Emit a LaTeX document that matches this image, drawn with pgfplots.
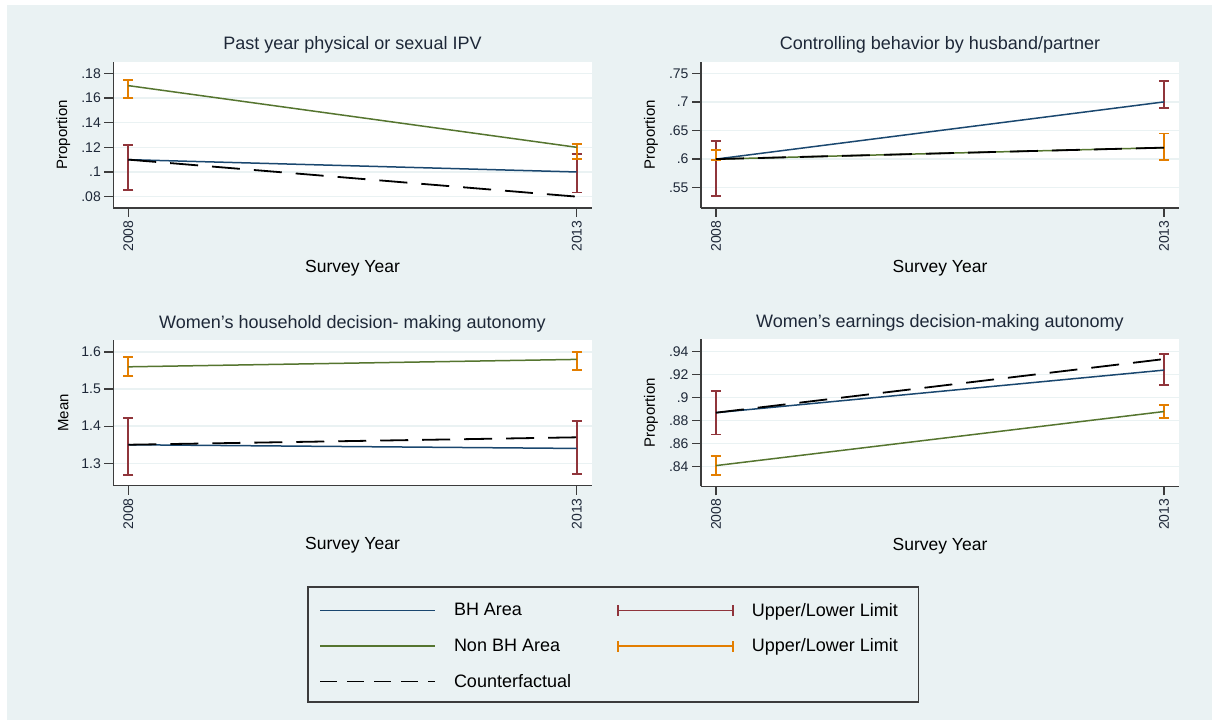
\documentclass[border=0pt]{standalone}
\usepackage{fontspec}
\setmainfont{Liberation Sans}
\usepackage{pgfplots}
\pgfplotsset{compat=1.18}
\definecolor{bgblue}{HTML}{EAF2F3}
\definecolor{sblue}{HTML}{1A476F}
\definecolor{sred}{HTML}{90353B}
\definecolor{sgreen}{HTML}{55752F}
\definecolor{sorange}{HTML}{E37E00}
\definecolor{axcol}{HTML}{3C3C3C}
\definecolor{txtcol}{HTML}{1E2838}
\pgfplotsset{
 panel/.style={
  scale only axis, width=478.4pt, height=146.3pt,
  xmin=2007.833, xmax=2013.167,
  axis x line*=bottom, axis y line*=left,
  axis line style={-, axcol, line width=1.3pt},
  tick style={axcol, line width=1.3pt},
  tick align=outside, major tick length=9pt,
  xtick={2008,2013}, xticklabels={2008,2013},
  xticklabel style={rotate=90, anchor=east, font=\fontsize{14}{16}\selectfont, text=txtcol},
  yticklabel style={font=\fontsize{14}{16}\selectfont, text=txtcol},
  ymajorgrids, grid style={bgblue, line width=1.5pt},
  axis background/.style={fill=white},
  title style={at={(axis description cs:0.5,1.041)}, anchor=base, font=\fontsize{18}{20}\selectfont, text=txtcol},
  xlabel style={at={(axis description cs:0.5,-0.41)}, anchor=center, font=\fontsize{17.5}{20}\selectfont, text=black},
  ylabel style={at={(axis description cs:-0.1045,0.5)}, anchor=center, font=\fontsize{15}{18}\selectfont, text=black},
  xlabel={Survey Year},
 },
 ci/.style={draw=none, mark=none, forget plot, error bars/.cd, y dir=both, y explicit,
   error bar style={draw=#1, line width=1.7pt, solid},
   error mark options={draw=#1, line width=1.7pt, mark size=5pt, rotate=90, solid}},
 bh/.style={sblue, line width=1.5pt, mark=none},
 nbh/.style={sgreen, line width=1.5pt, mark=none},
 cf/.style={black, line width=1.8pt, mark=none, dash pattern=on 28pt off 14pt},
}
\begin{document}
\begin{tikzpicture}[x=1pt,y=1pt]
\useasboundingbox (0,0) rectangle (1215,722);
\fill[white] (0,0) rectangle (1215,722);
\fill[bgblue] (7,2) rectangle (1212,717);

% Top left
\begin{axis}[panel, at={(113.3pt,514pt)}, anchor=south west,
  ymin=0.0708, ymax=0.1894,
  ytick={0.08,0.1,0.12,0.14,0.16,0.18}, yticklabels={.08,.1,.12,.14,.16,.18},
  title={Past year physical or sexual IPV}, ylabel={Proportion}]
\addplot[ci=sred] coordinates {(2008,0.11) += (0,0.0116) -= (0,0.0248) (2013,0.10) += (0,0.0148) -= (0,0.0167)};
\addplot[ci=sorange] coordinates {(2008,0.17) += (0,0.0046) -= (0,0.0102) (2013,0.12) += (0,0.0027) -= (0,0.0093)};
\addplot[bh] coordinates {(2008,0.11) (2013,0.10)};
\addplot[nbh] coordinates {(2008,0.17) (2013,0.12)};
\addplot[cf] coordinates {(2008,0.11) (2013,0.08)};
\end{axis}

% Top right
\begin{axis}[panel, at={(701pt,514pt)}, anchor=south west, width=478pt,
  ymin=0.5145, ymax=0.7703,
  ytick={0.55,0.6,0.65,0.7,0.75}, yticklabels={.55,.6,.65,.7,.75},
  title={Controlling behavior by husband/partner}, ylabel={Proportion}]
\addplot[ci=sred] coordinates {(2008,0.60) += (0,0.0316) -= (0,0.0646) (2013,0.70) += (0,0.0366) -= (0,0.0112)};
\addplot[ci=sorange] coordinates {(2008,0.60) += (0,0.0159) -= (0,0.0022) (2013,0.62) += (0,0.025) -= (0,0.0222)};
\addplot[bh] coordinates {(2008,0.60) (2013,0.70)};
\addplot[nbh] coordinates {(2008,0.60) (2013,0.62)};
\addplot[cf] coordinates {(2008,0.60) (2013,0.62)};
\end{axis}

% Bottom left
\begin{axis}[panel, at={(113.3pt,236.3pt)}, anchor=south west, height=145.7pt,
  ymin=1.2396, ymax=1.6323,
  ytick={1.3,1.4,1.5,1.6}, yticklabels={1.3,1.4,1.5,1.6},
  title={Women's household decision- making autonomy}, ylabel={Mean}]
\addplot[ci=sred] coordinates {(2008,1.35) += (0,0.073) -= (0,0.0815) (2013,1.34) += (0,0.0746) -= (0,0.069)};
\addplot[ci=sorange] coordinates {(2008,1.56) += (0,0.027) -= (0,0.025) (2013,1.58) += (0,0.0208) -= (0,0.0285)};
\addplot[bh] coordinates {(2008,1.35) (2013,1.34)};
\addplot[nbh] coordinates {(2008,1.56) (2013,1.58)};
\addplot[cf] coordinates {(2008,1.35) (2013,1.37)};
\end{axis}

% Bottom right
\begin{axis}[panel, at={(701pt,235.7pt)}, anchor=south west, width=478pt, height=147pt,
  ymin=0.823, ymax=0.9508,
  ytick={0.84,0.86,0.88,0.9,0.92,0.94}, yticklabels={.84,.86,.88,.9,.92,.94},
  title={Women's earnings decision-making autonomy}, ylabel={Proportion}]
\addplot[ci=sred] coordinates {(2008,0.887) += (0,0.0191) -= (0,0.0189) (2013,0.924) += (0,0.0143) -= (0,0.013)};
\addplot[ci=sorange] coordinates {(2008,0.841) += (0,0.0086) -= (0,0.0082) (2013,0.888) += (0,0.0059) -= (0,0.0057)};
\addplot[bh] coordinates {(2008,0.887) (2013,0.924)};
\addplot[nbh] coordinates {(2008,0.841) (2013,0.888)};
\addplot[cf] coordinates {(2008,0.887) (2013,0.9336)};
\end{axis}

% Legend
\begin{axis}[at={(308pt,20pt)}, anchor=south west, scale only axis, width=610.5pt, height=115pt,
  hide axis, xmin=0, xmax=1, ymin=0, ymax=1, clip=false,
  legend columns=2, legend cell align=left,
  legend style={at={(rel axis cs:0,1)}, anchor=north west, draw=none, fill=none,
    inner sep=0pt, xshift=11pt, yshift=-16pt, nodes={inner sep=0pt},
    font=\fontsize{18}{20}\selectfont, row sep=21pt,
    /tikz/every odd column/.append style={column sep=18pt},
    /tikz/every even column/.append style={column sep=46pt}},
  lline/.style={legend image code/.code={\draw[##1] (0pt,0pt) -- (115pt,0pt);}},
  lcap/.style={legend image code/.code={\draw[##1] (0pt,0pt) -- (115pt,0pt) (0pt,-5.5pt) -- (0pt,5.5pt) (115pt,-5.5pt) -- (115pt,5.5pt);}}]
\draw[axcol, line width=1.5pt] (rel axis cs:0,0) rectangle (rel axis cs:1,1);
\addlegendimage{lline, sblue, line width=1.5pt}
\addlegendentry{BH Area}
\addlegendimage{lcap, sred, line width=1.7pt}
\addlegendentry{Upper/Lower Limit}
\addlegendimage{lline, sgreen, line width=1.5pt}
\addlegendentry{Non BH Area}
\addlegendimage{lcap, sorange, line width=1.7pt}
\addlegendentry{Upper/Lower Limit}
\addlegendimage{lline, black, line width=1.8pt, dash pattern=on 17pt off 10pt}
\addlegendentry{Counterfactual}
\end{axis}
\end{tikzpicture}
\end{document}
